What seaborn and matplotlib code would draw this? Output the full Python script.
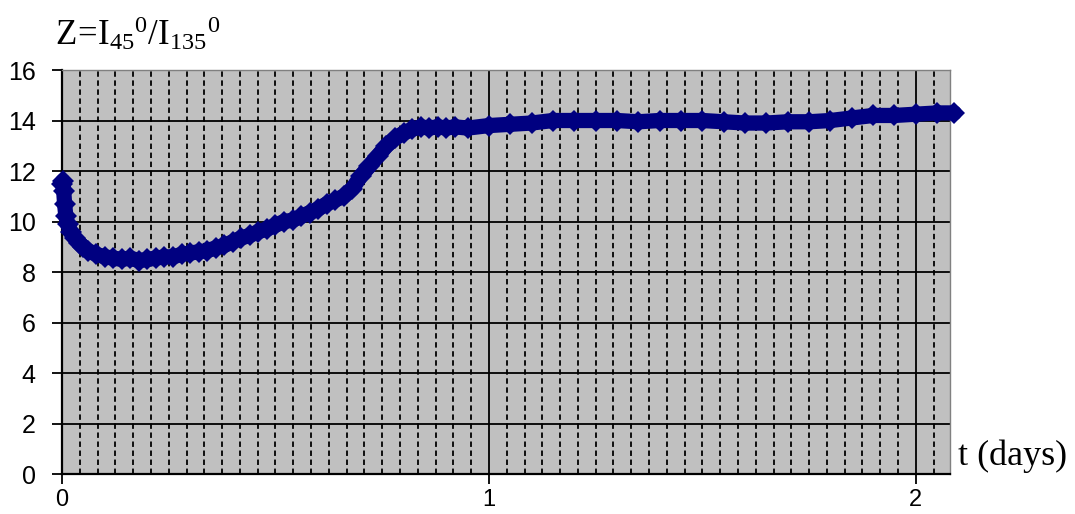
import numpy as np
import pandas as pd
import seaborn as sns
import matplotlib.pyplot as plt
from matplotlib.ticker import MultipleLocator

# Z ratio over time
t_days = [0.000, 0.002, 0.004, 0.006, 0.009, 0.013, 0.020, 0.030, 0.040, 0.050,
          0.060, 0.080, 0.100, 0.120, 0.140, 0.160, 0.180, 0.200, 0.220, 0.240,
          0.260, 0.280, 0.300, 0.320, 0.340, 0.360, 0.380, 0.400, 0.420, 0.440,
          0.460, 0.480, 0.500, 0.520, 0.540, 0.560, 0.580, 0.600, 0.620, 0.640,
          0.660, 0.680, 0.700, 0.720, 0.740, 0.760, 0.780, 0.800, 0.820, 0.840,
          0.860, 0.880, 0.900, 0.920, 0.950, 1.000, 1.050, 1.100, 1.150, 1.200,
          1.250, 1.300, 1.350, 1.400, 1.450, 1.500, 1.550, 1.600, 1.650, 1.700,
          1.750, 1.800, 1.850, 1.900, 1.950, 2.000, 2.050, 2.090]
z_ratio = [11.5, 11.6, 11.2, 10.7, 10.2, 9.9, 9.6, 9.35, 9.15, 9.0,
           8.85, 8.7, 8.6, 8.55, 8.5, 8.55, 8.45, 8.5, 8.55, 8.6,
           8.6, 8.7, 8.75, 8.8, 8.85, 8.95, 9.05, 9.2, 9.35, 9.45,
           9.6, 9.7, 9.85, 10.0, 10.05, 10.2, 10.35, 10.5, 10.7, 10.85,
           11.0, 11.3, 11.8, 12.2, 12.6, 13.0, 13.3, 13.5, 13.65, 13.75,
           13.7, 13.75, 13.7, 13.75, 13.7, 13.8, 13.85, 13.9, 14.0, 14.0,
           14.0, 14.0, 13.95, 14.0, 14.0, 14.0, 13.95, 13.9, 13.9, 13.95,
           13.95, 14.0, 14.1, 14.2, 14.2, 14.25, 14.3, 14.3]
y_ticks = [0, 2, 4, 6, 8, 10, 12, 14, 16]
x_ticks = [0, 1, 2]

df = pd.DataFrame({'t': t_days, 'z': z_ratio})

sns.set_theme(style='ticks')
plt.rcParams['font.family'] = ['Liberation Sans', 'DejaVu Sans']
plt.rcParams['text.color'] = 'black'
plt.rcParams['mathtext.fontset'] = 'custom'
plt.rcParams['mathtext.rm'] = 'Liberation Serif'
plt.rcParams['mathtext.it'] = 'Liberation Serif'

fig = plt.figure(figsize=(10.75, 5.14), dpi=100)
ax = fig.add_axes([0.0577, 0.0778, 0.826, 0.786])
ax.set_facecolor('#c0c0c0')

sns.lineplot(data=df, x='t', y='z', ax=ax, color='#000080', linewidth=11,
             marker='D', markersize=11, markeredgewidth=0, clip_on=False, zorder=5)

ax.set_xlim(0, 2.08)
ax.set_ylim(0, 16)
ax.set_xticks(x_ticks)
ax.set_yticks(y_ticks)
ax.set_xticklabels([str(v) for v in x_ticks], fontsize=17)
ax.set_yticklabels([str(v) for v in y_ticks], fontsize=18)
ax.xaxis.set_minor_locator(MultipleLocator(1 / 24))
ax.tick_params(which='minor', length=0)
ax.tick_params(which='major', length=7, width=1.3, color='black', labelcolor='black')
ax.tick_params(axis='y', pad=12)
ax.tick_params(axis='x', pad=4)

ax.grid(which='major', axis='both', color='black', linewidth=1.3)
ax.grid(which='minor', axis='x', color='black', linewidth=1.3, linestyle=(0, (3, 2)))
ax.set_axisbelow(True)

for side in ['left', 'bottom']:
    ax.spines[side].set_color('black')
    ax.spines[side].set_linewidth(1.6)
for side in ['top', 'right']:
    ax.spines[side].set_color('#808080')
    ax.spines[side].set_linewidth(1.0)

ax.set_xlabel('')
ax.set_ylabel('')

fig.text(0.051, 0.912, r'$\mathrm{Z\!=\!I_{45}{}^{0}/I_{135}{}^{0}}$', fontsize=25,
         color='black', va='baseline', ha='left')
fig.text(0.891, 0.095, 't (days)', fontsize=26, family='Liberation Serif',
         color='black', va='baseline', ha='left')

fig.savefig('out.png', dpi=100)
